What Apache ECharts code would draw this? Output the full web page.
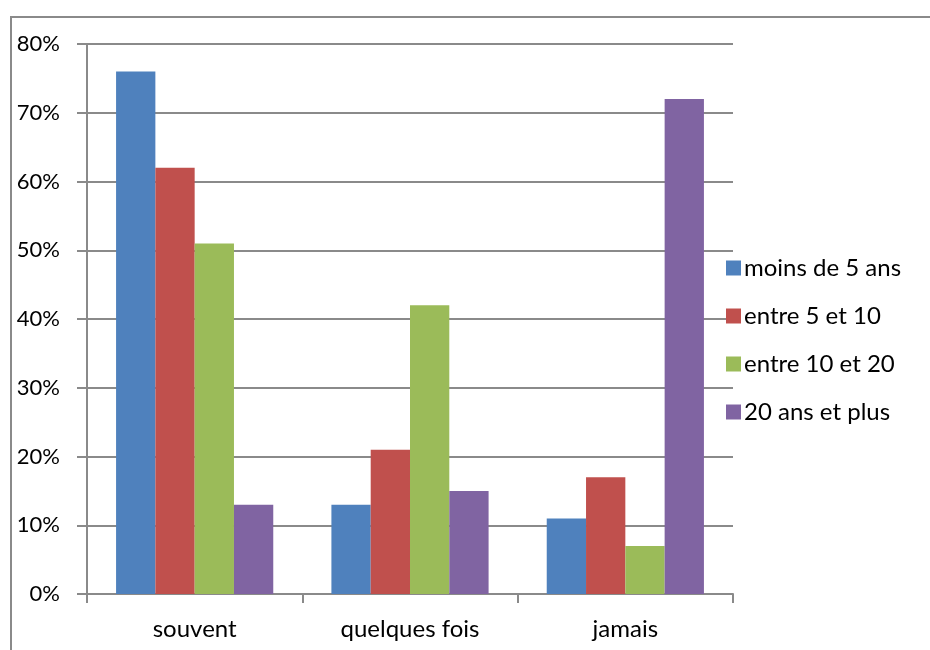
<!DOCTYPE html>
<html><head><meta charset="utf-8">
<script src="https://cdn.jsdelivr.net/npm/echarts@6/dist/echarts.min.js"></script>
<style>html,body{margin:0;padding:0;background:#fff}#c{width:930px;height:650px}</style>
</head><body><div id="c"></div>
<script>
const categories = ['souvent', 'quelques fois', 'jamais'];
const seriesNames = ['moins de 5 ans', 'entre 5 et 10', 'entre 10 et 20', '20 ans et plus'];
const moinsDe5 = [76, 13, 11];
const entre5et10 = [62, 21, 17];
const entre10et20 = [51, 42, 7];
const plus20 = [13, 15, 72];
const colors = ['#4F81BD', '#C0504D', '#9BBB59', '#8064A2'];
const values = [moinsDe5, entre5et10, entre10et20, plus20];

const font = 'Lato, "Open Sans", sans-serif';
const chart = echarts.init(document.getElementById('c'), null, {renderer: 'canvas'});
chart.setOption({
  animation: false,
  textStyle: {fontFamily: font},
  graphic: [{type: 'rect', shape: {x: 11, y: 17, width: 940, height: 660},
    style: {fill: 'none', stroke: '#8a8a8a', lineWidth: 2}, z: 10}],
  grid: {left: 87, right: 197, top: 44, bottom: 56, containLabel: false},
  legend: {
    orient: 'vertical', left: 721, top: 249, itemWidth: 15, itemHeight: 15, itemGap: 20,
    icon: 'rect',
    textStyle: {fontSize: 24, lineHeight: 28, color: '#000', fontFamily: font, padding: [0, 0, 0, -2]},
    data: seriesNames
  },
  xAxis: {
    type: 'category', data: categories,
    axisLine: {lineStyle: {color: '#8a8a8a', width: 2}},
    axisTick: {show: true, length: 9, alignWithLabel: false, lineStyle: {color: '#8a8a8a', width: 2}},
    axisLabel: {fontSize: 24, color: '#000', margin: 23, fontFamily: font}
  },
  yAxis: {
    type: 'value', min: 0, max: 80, interval: 10,
    axisLine: {show: true, lineStyle: {color: '#8a8a8a', width: 2}},
    axisTick: {show: true, inside: false, length: 10, lineStyle: {color: '#8a8a8a', width: 2}},
    splitLine: {lineStyle: {color: '#8a8a8a', width: 2}},
    axisLabel: {fontSize: 22, color: '#000', margin: 27, fontFamily: font, formatter: '{value}%'}
  },
  series: seriesNames.map((n, i) => ({
    name: n, type: 'bar', data: values[i], barGap: '0%', barCategoryGap: '27%',
    itemStyle: {color: colors[i]}
  }))
});
</script></body></html>
